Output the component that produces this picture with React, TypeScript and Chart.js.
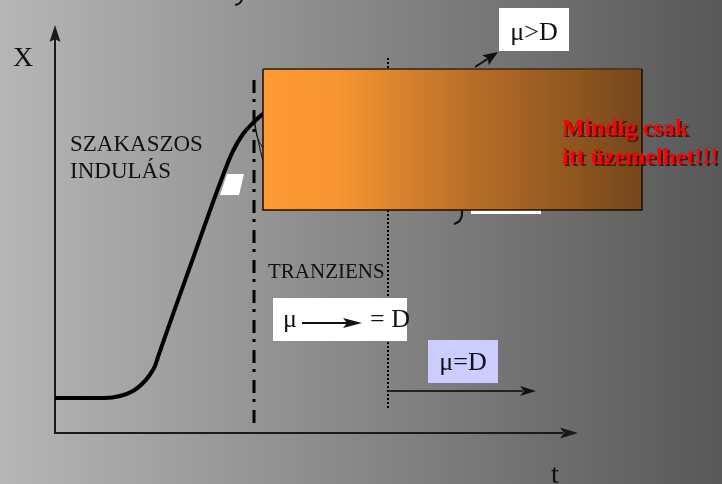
import React, { useEffect, useRef } from "react";
import { Chart, registerables } from "chart.js";

Chart.register(...registerables);

const W = 722;
const H = 484;

// Growth curve: time (t) and biomass (X), in units measured from the axis origin
const tValues = [0, 50, 65, 78, 87, 94, 100, 103, 136, 170, 178, 188, 198, 208, 220];
const xValues = [35, 35, 37, 42, 49, 57, 67, 76, 169, 263, 282, 299, 310, 319, 325];

// Axis range (units) so that the origin sits where the reference puts it
const tRange = [-55, 667];
const xRange = [-51, 433];

// Texts
const axisLabels = ["X", "t"];
const phaseLabels = ["SZAKASZOS", "INDULÁS"];
const transientLabel = "TRANZIENS";
const warningLines = ["Mindíg csak", "itt üzemelhet!!!"];
const muAboveLabel = "μ>D";
const muEqualLabel = "μ=D";
const muTendLeft = "μ";
const muTendRight = "= D";

// Marker times (units)
const batchEndT = 199;
const steadyStartT = 333;

const SERIF = '"Liberation Serif", "Times New Roman", serif';

const diagramPlugin = {
  id: "diagram",
  beforeDatasetsDraw(chart: any) {
    const { ctx } = chart;
    const sx = chart.scales.x;
    const sy = chart.scales.y;
    const X = (v: number) => sx.getPixelForValue(v);
    const Y = (v: number) => sy.getPixelForValue(v);
    ctx.save();
    // background
    const bg = ctx.createLinearGradient(0, 0, W, 0);
    bg.addColorStop(0, "#b6b6b6");
    bg.addColorStop(1, "#585858");
    ctx.fillStyle = bg;
    ctx.fillRect(0, 0, W, H);

    // dash-dot line (end of batch start)
    ctx.strokeStyle = "#000";
    ctx.lineWidth = 3;
    ctx.setLineDash([13, 6, 3, 8]);
    ctx.beginPath();
    ctx.moveTo(X(batchEndT), Y(353));
    ctx.lineTo(X(batchEndT), Y(6));
    ctx.stroke();

    // dotted line (steady state start)
    ctx.lineWidth = 2;
    ctx.setLineDash([2, 2]);
    ctx.beginPath();
    ctx.moveTo(X(steadyStartT), Y(375));
    ctx.lineTo(X(steadyStartT), Y(23));
    ctx.stroke();
    ctx.setLineDash([]);

    // axes
    ctx.strokeStyle = "#1a1a1a";
    ctx.fillStyle = "#1a1a1a";
    ctx.lineWidth = 2;
    ctx.beginPath();
    ctx.moveTo(X(0), Y(0));
    ctx.lineTo(X(0), Y(394));
    ctx.stroke();
    ctx.beginPath();
    ctx.moveTo(X(0), Y(408));
    ctx.lineTo(X(-5.5), Y(391));
    ctx.lineTo(X(0), Y(394));
    ctx.lineTo(X(5.5), Y(391));
    ctx.closePath();
    ctx.fill();

    ctx.beginPath();
    ctx.moveTo(X(-1), Y(0));
    ctx.lineTo(X(508), Y(0));
    ctx.stroke();
    ctx.beginPath();
    ctx.moveTo(X(523), Y(0));
    ctx.lineTo(X(505), Y(5.5));
    ctx.lineTo(X(509), Y(0));
    ctx.lineTo(X(505), Y(-5.5));
    ctx.closePath();
    ctx.fill();

    // axis labels
    ctx.fillStyle = "#111";
    ctx.font = `28px ${SERIF}`;
    ctx.textBaseline = "alphabetic";
    ctx.textAlign = "left";
    ctx.fillText(axisLabels[0], X(-42), Y(367));
    ctx.fillText(axisLabels[1], X(496), Y(-50));

    // phase label
    ctx.font = `23px ${SERIF}`;
    ctx.fillText(phaseLabels[0], X(15), Y(282));
    ctx.fillText(phaseLabels[1], X(15), Y(255));

    // fragment at top
    ctx.strokeStyle = "#111";
    ctx.lineWidth = 2;
    ctx.beginPath();
    ctx.moveTo(X(187), Y(434));
    ctx.quadraticCurveTo(X(186), Y(429), X(180), Y(428));
    ctx.stroke();

    // thin arcs near the curve
    ctx.lineWidth = 1;
    ctx.beginPath();
    ctx.moveTo(X(199), Y(315));
    ctx.quadraticCurveTo(X(200), Y(295), X(208), Y(285));
    ctx.moveTo(X(199), Y(315));
    ctx.quadraticCurveTo(X(203), Y(290), X(208), Y(272));
    ctx.stroke();
    ctx.restore();
  },
  afterDatasetsDraw(chart: any) {
    const { ctx } = chart;
    const sx = chart.scales.x;
    const sy = chart.scales.y;
    const X = (v: number) => sx.getPixelForValue(v);
    const Y = (v: number) => sy.getPixelForValue(v);
    ctx.save();

    // white parallelogram
    ctx.fillStyle = "#fff";
    ctx.beginPath();
    ctx.moveTo(X(172), Y(259));
    ctx.lineTo(X(189), Y(259));
    ctx.lineTo(X(184), Y(238));
    ctx.lineTo(X(165), Y(238));
    ctx.closePath();
    ctx.fill();

    // white bar and hook under the box
    ctx.fillRect(X(416), Y(223), X(486) - X(416), 4);
    ctx.strokeStyle = "#111";
    ctx.lineWidth = 2;
    ctx.beginPath();
    ctx.moveTo(X(407), Y(223));
    ctx.quadraticCurveTo(X(408), Y(211), X(399), Y(209));
    ctx.stroke();

    // orange box
    const bx0 = X(208), bx1 = X(587), by0 = Y(364), by1 = Y(223);
    const g = ctx.createLinearGradient(bx0, 0, bx1, 0);
    g.addColorStop(0, "#ff9a35");
    g.addColorStop(0.2, "#f69531");
    g.addColorStop(0.55, "#b76e28");
    g.addColorStop(1, "#74461a");
    ctx.fillStyle = g;
    ctx.fillRect(bx0, by0, bx1 - bx0, by1 - by0);
    ctx.strokeStyle = "#5a3812";
    ctx.lineWidth = 2;
    ctx.beginPath();
    ctx.moveTo(bx0, by0);
    ctx.lineTo(bx1, by0);
    ctx.stroke();
    ctx.strokeStyle = "#1a0f05";
    ctx.lineWidth = 1.5;
    ctx.beginPath();
    ctx.moveTo(bx0, by0);
    ctx.lineTo(bx0, by1);
    ctx.lineTo(bx1, by1);
    ctx.lineTo(bx1, by0);
    ctx.stroke();

    // warning text
    ctx.font = `bold 24px ${SERIF}`;
    ctx.textAlign = "left";
    ctx.textBaseline = "alphabetic";
    ctx.shadowColor = "rgba(40,20,20,0.85)";
    ctx.shadowOffsetX = 2;
    ctx.shadowOffsetY = 2;
    ctx.shadowBlur = 0;
    ctx.fillStyle = "#ff0000";
    ctx.fillText(warningLines[0], X(507), Y(298));
    ctx.fillText(warningLines[1], X(507), Y(269));
    ctx.shadowColor = "transparent";
    ctx.shadowOffsetX = 0;
    ctx.shadowOffsetY = 0;

    // transient label
    ctx.fillStyle = "#111";
    ctx.font = `21px ${SERIF}`;
    ctx.fillText(transientLabel, X(213), Y(155));

    // mu -> = D box
    ctx.fillStyle = "#fff";
    ctx.fillRect(X(218), Y(135), X(352) - X(218), Y(92) - Y(135));
    ctx.fillStyle = "#111";
    ctx.font = `26px ${SERIF}`;
    ctx.fillText(muTendLeft, X(228), Y(106));
    ctx.fillText(muTendRight, X(315), Y(106));
    ctx.strokeStyle = "#111";
    ctx.lineWidth = 2;
    ctx.beginPath();
    ctx.moveTo(X(247), Y(110));
    ctx.lineTo(X(292), Y(110));
    ctx.stroke();
    ctx.beginPath();
    ctx.moveTo(X(307), Y(110));
    ctx.lineTo(X(288), Y(115));
    ctx.lineTo(X(292), Y(110));
    ctx.lineTo(X(288), Y(105));
    ctx.closePath();
    ctx.fill();

    // mu = D box
    ctx.fillStyle = "#ccccff";
    ctx.fillRect(X(373), Y(93), X(443) - X(373), Y(50) - Y(93));
    ctx.fillStyle = "#111";
    ctx.textAlign = "center";
    ctx.fillText(muEqualLabel, (X(373) + X(443)) / 2, Y(63));

    // steady state arrow
    ctx.strokeStyle = "#222";
    ctx.lineWidth = 2;
    ctx.beginPath();
    ctx.moveTo(X(steadyStartT), Y(42));
    ctx.lineTo(X(468), Y(42));
    ctx.stroke();
    ctx.fillStyle = "#111";
    ctx.beginPath();
    ctx.moveTo(X(481), Y(42));
    ctx.lineTo(X(465), Y(47));
    ctx.lineTo(X(469), Y(42));
    ctx.lineTo(X(465), Y(37));
    ctx.closePath();
    ctx.fill();

    // mu > D box and arrow
    ctx.fillStyle = "#fff";
    ctx.fillRect(X(444), Y(425), X(514) - X(444), Y(382) - Y(425));
    ctx.fillStyle = "#111";
    ctx.fillText(muAboveLabel, (X(444) + X(514)) / 2, Y(393));
    ctx.strokeStyle = "#111";
    ctx.lineWidth = 2;
    ctx.beginPath();
    ctx.moveTo(X(420), Y(366));
    ctx.lineTo(X(434), Y(375));
    ctx.stroke();
    ctx.beginPath();
    const ax = X(443), ay = Y(381);
    const ang = Math.atan2(ay - Y(366), ax - X(420));
    const hl = 15, hw = 6;
    const bxp = ax - hl * Math.cos(ang), byp = ay - hl * Math.sin(ang);
    ctx.moveTo(ax, ay);
    ctx.lineTo(bxp + hw * Math.sin(ang), byp - hw * Math.cos(ang));
    ctx.lineTo(bxp + 3 * Math.cos(ang), byp + 3 * Math.sin(ang));
    ctx.lineTo(bxp - hw * Math.sin(ang), byp + hw * Math.cos(ang));
    ctx.closePath();
    ctx.fill();

    ctx.restore();
  },
};

export default function App() {
  const ref = useRef<HTMLCanvasElement | null>(null);
  useEffect(() => {
    if (!ref.current) return;
    const chart = new Chart(ref.current, {
      type: "scatter",
      data: {
        datasets: [
          {
            data: tValues.map((t, i) => ({ x: t, y: xValues[i] })),
            showLine: true,
            borderColor: "#000",
            borderWidth: 4,
            pointRadius: 0,
            cubicInterpolationMode: "monotone",
            fill: false,
          } as any,
        ],
      },
      options: {
        responsive: false,
        animation: false,
        events: [],
        layout: { padding: 0 },
        plugins: { legend: { display: false }, tooltip: { enabled: false } },
        scales: {
          x: { type: "linear", min: tRange[0], max: tRange[1], display: false },
          y: { type: "linear", min: xRange[0], max: xRange[1], display: false },
        },
      },
      plugins: [diagramPlugin],
    });
    return () => chart.destroy();
  }, []);
  return (
    <div style={{ position: "absolute", left: 0, top: 0, width: W, height: H }}>
      <canvas ref={ref} width={W} height={H} style={{ display: "block", width: W, height: H }} />
    </div>
  );
}
